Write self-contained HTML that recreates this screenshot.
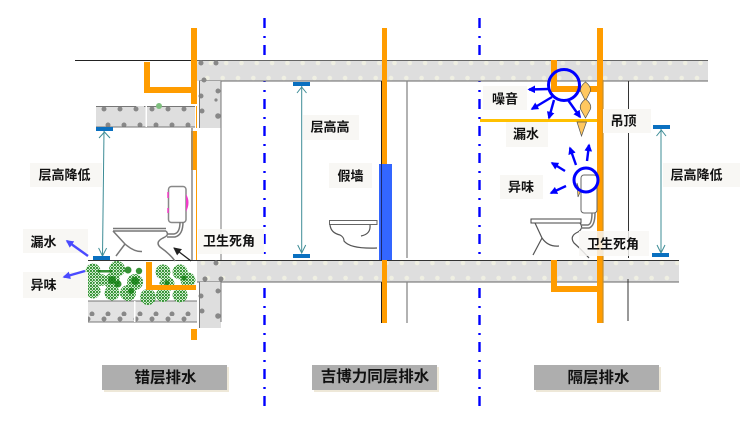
<!DOCTYPE html>
<html><head><meta charset="utf-8">
<style>
html,body{margin:0;padding:0;background:#fff;width:740px;height:433px;overflow:hidden}
svg{display:block}
text{font-family:"Liberation Sans","Noto Sans CJK SC",sans-serif;font-weight:700;font-size:13px;fill:#111;text-anchor:middle;dominant-baseline:central}
.b{font-size:15.5px}
.lb{fill:#f8f7f4}
.s{fill:#dedede}
.o{fill:#ff9c00}
.ar{stroke:#00f;stroke-width:2.4;fill:none;marker-end:url(#ba)}
.t{fill:none;stroke:#555;stroke-width:1.2}
.t2{fill:none;stroke:#777;stroke-width:1.5}
</style></head><body>
<svg width="740" height="433" viewBox="0 0 740 433" xmlns="http://www.w3.org/2000/svg">
<defs>
<pattern id="p1" x="8" y="60" width="15.3" height="21" patternUnits="userSpaceOnUse"><circle cx="4" cy="3" r="2.3" fill="#efefe2"/><circle cx="0.5" cy="18" r="2.3" fill="#efefe2"/><circle cx="15.8" cy="18" r="2.3" fill="#efefe2"/></pattern>
<pattern id="p2" x="0" y="260" width="15.3" height="22" patternUnits="userSpaceOnUse"><circle cx="4" cy="3" r="2.3" fill="#efefe2"/><circle cx="9" cy="18" r="2.3" fill="#efefe2"/></pattern>
<pattern id="p3" x="96" y="106" width="16" height="21" patternUnits="userSpaceOnUse"><circle cx="8" cy="3" r="2.5" fill="#888"/><circle cx="12" cy="19" r="2.5" fill="#888"/></pattern>
<pattern id="g" width="3" height="3" patternUnits="userSpaceOnUse"><rect width="3" height="3" fill="#d8edd8"/><circle cx="1" cy="1" r="1.050" fill="#1c861c"/><circle cx="2.500" cy="2.500" r="0.700" fill="#3f9f3f"/></pattern>
<marker id="ba" viewBox="0 0 5 5" markerWidth="3.2" markerHeight="3.2" refX="4" refY="2.5" orient="auto" markerUnits="strokeWidth"><path d="M0 0L5 2.5L0 5Z" fill="#00f"/></marker>
<marker id="bl" viewBox="0 0 5 5" markerWidth="3.2" markerHeight="3.2" refX="4" refY="2.5" orient="auto" markerUnits="strokeWidth"><path d="M0 0L5 2.5L0 5Z" fill="#4a4aff"/></marker>
<marker id="te" markerWidth="10" markerHeight="10" refX="9" refY="5" orient="auto" markerUnits="userSpaceOnUse"><path d="M1 1L9 5L1 9" fill="none" stroke="#3d8c96" stroke-width="1"/></marker>
<marker id="bk" markerWidth="8" markerHeight="8" refX="7" refY="4" orient="auto" markerUnits="userSpaceOnUse"><path d="M0 0L8 4L0 8Z" fill="#222"/></marker>
</defs>

<!-- divider lines -->
<path d="M264.5 18V408M479.5 18V408" stroke="#0000ff" stroke-width="2.4" stroke-dasharray="10 8 2 7" fill="none"/>

<!-- top line -->
<path d="M75 60.5H195" stroke="#222" stroke-width="1"/>

<!-- upper slab -->
<rect class="s" x="197" y="60" width="511" height="21"/>
<rect x="197" y="60" width="511" height="21" fill="url(#p1)"/>
<path d="M197 60.5H708M199 81H708" stroke="#666" stroke-width="1"/>
<rect class="s" x="199" y="81" width="22" height="47"/>
<circle cx="201" cy="96" r="2.5" fill="#888"/><circle cx="218" cy="91" r="2.5" fill="#888"/><circle cx="202" cy="111" r="2.5" fill="#888"/><circle cx="218" cy="116" r="2.8" fill="#888"/><circle cx="204" cy="80" r="2.5" fill="#888"/><circle cx="216" cy="100" r="1.6" fill="#888"/>
<circle cx="201" cy="63" r="2.5" fill="#888"/><circle cx="216" cy="63" r="2.5" fill="#888"/>
<path d="M199.5 81V128M221 81V260" stroke="#777" stroke-width="1"/>

<!-- left upper slab -->
<rect class="s" x="96" y="106" width="99" height="21"/>
<rect x="96" y="106" width="99" height="21" fill="url(#p3)"/>
<path d="M96 106.500H136M144 106.500H195M96 127H195" stroke="#777" stroke-width="1"/>
<rect x="145.500" y="106" width="1.500" height="21" fill="#fff"/>
<circle cx="159" cy="106" r="3" fill="#7fbf7f"/>

<!-- lower slab -->
<rect class="s" x="197" y="261" width="482" height="21"/>
<rect x="197" y="261" width="482" height="21" fill="url(#p2)"/>
<path d="M88 260.500H679" stroke="#333" stroke-width="1"/>
<path d="M197 282H679" stroke="#666" stroke-width="1"/>
<rect class="s" x="199" y="282" width="22" height="46"/>
<circle cx="201" cy="296" r="2.500" fill="#888"/><circle cx="218" cy="291" r="2.500" fill="#888"/><circle cx="202" cy="311" r="2.500" fill="#888"/><circle cx="218" cy="316" r="2.800" fill="#888"/><circle cx="216" cy="263" r="2.500" fill="#888"/><circle cx="205" cy="279" r="2.500" fill="#888"/><circle cx="221" cy="279" r="2.500" fill="#888"/>
<path d="M199.500 282V328M221 282V322" stroke="#777" stroke-width="1"/>

<!-- left lower slab -->
<rect fill="#e2e2e2" x="88" y="301" width="109" height="21"/>
<rect x="88" y="301" width="109" height="21" fill="url(#p3)"/>
<path d="M88 301H197M88 322H197" stroke="#777" stroke-width="1"/>
<rect x="134" y="301" width="1.500" height="21" fill="#fff"/>

<!-- bushes -->
<g fill="url(#g)">
<circle cx="93" cy="271" r="7.500"/><circle cx="93" cy="291" r="7.500"/><circle cx="117" cy="269" r="8"/><circle cx="112" cy="281" r="8"/><circle cx="112" cy="293" r="7.500"/><circle cx="128" cy="293" r="8"/><circle cx="135" cy="282" r="8"/><circle cx="148" cy="297" r="8"/><circle cx="163" cy="272" r="7.500"/><circle cx="167" cy="284" r="7.500"/><circle cx="163" cy="295" r="7"/><circle cx="180" cy="272" r="7.500"/><circle cx="188" cy="280" r="7.500"/><circle cx="180" cy="295" r="7.500"/><circle cx="101" cy="280" r="6"/><circle cx="90" cy="281" r="5"/>
</g>
<g fill="#128012" opacity=".85">
<circle cx="128" cy="270" r="3.500"/><circle cx="139" cy="271" r="3.200"/><circle cx="112" cy="280" r="4"/><circle cx="118" cy="284" r="3.500"/><circle cx="135" cy="281" r="4"/><circle cx="131" cy="291" r="3"/><circle cx="167" cy="283" r="2.500"/><circle cx="184" cy="278" r="2.500"/>
<rect x="98" y="270" width="14" height="2.500"/>
</g>

<!-- left pipes -->
<path class="o" d="M144 62h6v25h41V28h6v76h-6V93h-47z"/>
<rect class="o" x="191" y="131" width="6" height="39"/>
<rect class="o" x="191" y="329" width="6" height="11"/>
<path d="M192 128V260" stroke="#888" stroke-width="1.500"/>
<path d="M196.500 106V128M196.500 170V260" stroke="#ff9c00" stroke-width="1"/>
<path class="o" d="M146 262h6v23h44v5h-50z"/>

<!-- left toilet -->
<rect x="168.500" y="186.500" width="17.500" height="36" rx="3" fill="#fff" stroke="#888" stroke-width="1.500"/>
<path d="M186 194Q191 202 186 212Z" fill="#f03cc8"/>
<path d="M168 192v6M168 208v5" stroke="#f53cc8" stroke-width="1.500"/>
<path class="t2" d="M113 228.500H166M113 231H166M113 231L125 244L116 256M125 244Q134 252 142 251.500M166 231Q170 235 163 238Q155 242 160 247Q170 254 175 261"/>
<path class="t2" d="M167 234H174Q180 233 180 222M167 237H175Q183 235 183 222"/>
<path d="M191 261L174 248" stroke="#222" stroke-width="1.300" marker-end="url(#bk)"/>

<!-- left dim -->
<path d="M104 131L102.500 256" stroke="#3d8c96" stroke-width="1" marker-end="url(#te)"/>
<path d="M99 138L104.500 132L110 138" fill="none" stroke="#3d8c96" stroke-width="1"/>
<rect x="96" y="127" width="17" height="4" fill="#0a70c0"/>
<rect x="93" y="256" width="17" height="4" fill="#0a70c0"/>

<!-- middle -->
<path d="M381.500 81V260M381.500 282V323" stroke="#222" stroke-width="1"/>
<path d="M407 81V258M407 282V323" stroke="#888" stroke-width="1.300"/>
<rect class="o" x="382" y="28" width="5" height="295"/>
<rect x="379" y="164" width="13" height="96" fill="#3366ff"/>
<path d="M381.500 164V260" stroke="#1a2a70" stroke-width="1"/>
<path d="M329.500 220.500H377V224.500H329.500Z" fill="#fff" stroke="#666" stroke-width="1"/>
<path class="t" d="M330 225Q331 233 340 235Q344 237 344 241Q350 249 377 248M370 225Q371 234 361 236"/>
<path d="M301.700 86V253" stroke="#3d8c96" stroke-width="1" marker-end="url(#te)"/>
<path d="M297 93L301.700 87L306.500 93" fill="none" stroke="#3d8c96" stroke-width="1"/>
<rect x="293" y="82" width="17" height="4" fill="#0a70c0"/>
<rect x="293" y="254" width="17" height="4" fill="#0a70c0"/>

<!-- right -->
<path d="M628.500 81V258M628 279V321" stroke="#333" stroke-width="1"/>
<rect x="480" y="119" width="117" height="3" fill="#ffc000"/>
<path class="o" d="M551 60h6v26h40V28h6v295h-6V292h-46v-32h6v26h40V92h-46z" />
<path d="M603 80V323" stroke="#c8902a" stroke-width="1.200"/>
<!-- drops -->
<g fill="#ffc860" stroke="#555" stroke-width="0.700">
<path d="M585.500 82Q579 87 581 92L585.500 101L590 92Q592 87 585.500 82Z"/>
<path d="M585.500 99Q579 104 580.500 109L585.500 118L590.500 109Q592 104 585.500 99Z"/>
<path d="M577 122H586.500L581.500 136Z"/>
<path d="M577 183Q579 190 581 190L578 197Z"/>
</g>
<circle cx="564" cy="85" r="15.500" fill="none" stroke="#0000ff" stroke-width="3"/>
<path class="ar" d="M549 89L529 89.500"/>
<path class="ar" d="M552 97L532 109"/>
<path class="ar" d="M554 100L549 118"/>
<path class="ar" d="M568 100L580 117"/>
<path class="ar" d="M565 171L552 163"/>
<path class="ar" d="M576 165L570 148"/>
<path class="ar" d="M587 161L589 145"/>
<path class="ar" d="M566 186L551 193"/>
<!-- right toilet -->
<rect x="581" y="175" width="16" height="38" rx="3" fill="#fff" stroke="#666" stroke-width="1"/>
<circle cx="586" cy="180" r="12" fill="none" stroke="#0000ff" stroke-width="3"/>
<path d="M531 219H581V223H531Z" fill="#fff" stroke="#444" stroke-width="1"/>
<path class="t" d="M535 223L542 238L533 255M542 238Q548 247 559 246M580 223Q584 228 578 232Q569 236 574 243Q582 250 589 258"/>
<path class="t2" d="M581 225H588Q592 224 592 213M581 228H589Q595 226 595 213" stroke-width="1.100"/>
<path d="M661 129V253" stroke="#3d8c96" stroke-width="1" marker-end="url(#te)"/>
<path d="M656.500 136L661.300 130L666 136" fill="none" stroke="#3d8c96" stroke-width="1"/>
<rect x="653" y="125" width="17" height="4" fill="#0a70c0"/>
<rect x="652" y="253" width="17" height="4" fill="#0a70c0"/>

<!-- label boxes -->
<g class="lb">
<rect x="30" y="163" width="72" height="24"/>
<rect x="23" y="229" width="65" height="24"/>
<rect x="23" y="272" width="65" height="26"/>
<rect x="198" y="229" width="66" height="25" opacity=".9"/>
<rect x="303" y="115" width="56" height="25"/>
<rect x="329" y="163" width="43" height="25"/>
<rect x="483" y="86" width="44" height="24"/>
<rect x="506" y="122" width="42" height="25"/>
<rect x="603" y="109" width="48" height="24"/>
<rect x="663" y="163" width="77" height="24"/>
<rect x="500" y="175" width="43" height="24"/>
<rect x="579" y="231" width="70" height="25" opacity=".85"/>
</g>
<text x="64.500" y="175">层高降低</text>
<text x="43.500" y="242">漏水</text>
<text x="43.500" y="285">异味</text>
<text x="229" y="241">卫生死角</text>
<text x="330" y="127">层高高</text>
<text x="350.500" y="176">假墙</text>
<text x="505" y="99">噪音</text>
<text x="526" y="134">漏水</text>
<text x="623.500" y="121">吊顶</text>
<text x="696.500" y="175">层高降低</text>
<text x="521" y="187">异味</text>
<text x="613" y="244">卫生死角</text>

<!-- left blue arrows (above labels) -->
<path d="M88 256L67 241" stroke="#4a4aff" stroke-width="2.400" marker-end="url(#bl)"/>
<path d="M85 271L64 277" stroke="#4a4aff" stroke-width="2.400" marker-end="url(#bl)"/>

<!-- bottom boxes -->
<rect x="104" y="367" width="125" height="25" fill="#eee8d8"/>
<rect x="102" y="365" width="125" height="25" fill="#aeaeae"/>
<rect x="314" y="367" width="125" height="25" fill="#eee8d8"/>
<rect x="312" y="365" width="125" height="25" fill="#aeaeae"/>
<rect x="536" y="367" width="125" height="25" fill="#eee8d8"/>
<rect x="534" y="365" width="125" height="25" fill="#aeaeae"/>
<text class="b" x="165.500" y="378">错层排水</text>
<text class="b" x="375" y="377">吉博力同层排水</text>
<text class="b" x="598.500" y="378">隔层排水</text>
</svg>
</body></html>
